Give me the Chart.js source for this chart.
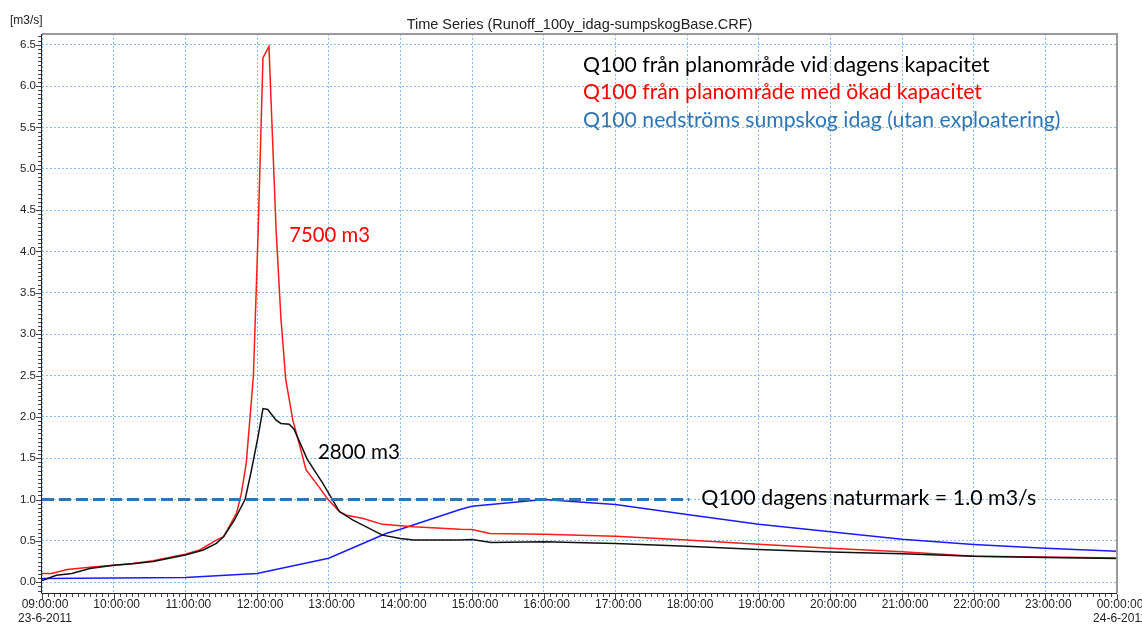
<!DOCTYPE html>
<html lang="sv">
<head>
    <meta charset="UTF-8">
    <title>Time Series (Runoff_100y_idag-sumpskogBase.CRF)</title>
    <script src="https://cdn.jsdelivr.net/npm/chart.js"></script>
    <style>
        html, body { margin: 0; padding: 0; background: #fff; }
    </style>
</head>
<body>
    <canvas id="myChart" width="1142" height="624"></canvas>

    <script>
        // Q100 från planområde vid dagens kapacitet (svart)
        const blackTimes = ['09:00','09:12','09:25','09:40','10:00','10:16','10:33','11:00','11:15','11:26','11:32','11:41','11:50','11:55','12:01','12:05','12:09','12:16','12:20','12:27','12:31','12:42','12:55','13:09','13:20','13:45','14:00','14:11','14:50','15:00','15:16','16:00','17:00','18:00','19:00','20:00','21:00','22:00','23:00','24:00'];
        const blackValues = [0.02,0.085,0.105,0.167,0.207,0.225,0.25,0.33,0.39,0.47,0.55,0.75,1.0,1.33,1.77,2.10,2.09,1.96,1.92,1.91,1.85,1.49,1.20,0.855,0.755,0.57,0.53,0.51,0.51,0.516,0.48,0.49,0.468,0.435,0.395,0.367,0.345,0.315,0.30,0.286];

        // Q100 från planområde med ökad kapacitet (röd)
        const redTimes = ['09:00','09:08','09:21','09:40','10:00','10:16','10:33','11:00','11:12','11:26','11:32','11:43','11:47','11:51','11:55','11:57','12:01','12:05','12:10','12:16','12:20','12:24','12:30','12:36','12:41','12:52','12:59','13:09','13:15','13:29','13:45','14:11','14:50','15:00','15:15','16:00','17:00','18:00','19:00','20:00','21:00','22:00','23:00','24:00'];
        const redValues = [0.105,0.105,0.155,0.18,0.207,0.227,0.26,0.34,0.39,0.51,0.55,0.84,1.08,1.44,2.14,2.5,4.26,6.34,6.48,4.26,3.2,2.46,1.96,1.64,1.36,1.15,1.01,0.855,0.81,0.77,0.70,0.67,0.64,0.637,0.59,0.58,0.556,0.51,0.46,0.41,0.37,0.315,0.306,0.294];

        // Q100 nedströms sumpskog idag (blå)
        const blueTimes = ['09:00','10:00','11:00','12:00','13:00','13:48','14:00','14:50','15:00','16:00','17:00','18:00','19:00','20:00','21:00','22:00','23:00','24:00'];
        const blueValues = [0.045,0.05,0.057,0.105,0.29,0.59,0.64,0.88,0.92,1.0,0.94,0.82,0.70,0.61,0.52,0.456,0.41,0.375];

        // Q100 dagens naturmark (streckad)
        const limitTimes = ['09:00','18:02'];
        const limitValues = [1.0, 1.0];

        const xTicks = [9,10,11,12,13,14,15,16,17,18,19,20,21,22,23,24];
        const xTickLabels = [['09:00:00','23-6-2011'],'10:00:00','11:00:00','12:00:00','13:00:00','14:00:00','15:00:00','16:00:00','17:00:00','18:00:00','19:00:00','20:00:00','21:00:00','22:00:00','23:00:00',['00:00:00','24-6-2011']];
        const yTicks = [0,0.5,1,1.5,2,2.5,3,3.5,4,4.5,5,5.5,6,6.5];
        const yTickLabels = ['0.0','0.5','1.0','1.5','2.0','2.5','3.0','3.5','4.0','4.5','5.0','5.5','6.0','6.5'];

        const notes = [
            { text: 'Q100 från planområde vid dagens kapacitet', at: ['16:33', 6.17], color: '#000000', size: 21.2 },
            { text: 'Q100 från planområde med ökad kapacitet', at: ['16:33', 5.84], color: '#ff0000', size: 21.2 },
            { text: 'Q100 nedströms sumpskog idag (utan exploatering)', at: ['16:33', 5.51], color: '#2e75b6', size: 21.2 },
            { text: '7500 m3', at: ['12:27', 4.12], color: '#ff0000', size: 20.3 },
            { text: '2800 m3', at: ['12:51', 1.49], color: '#000000', size: 20.6 },
            { text: 'Q100 dagens naturmark = 1.0 m3/s', at: ['18:12', 0.93], color: '#000000', size: 21.4 }
        ];

        function toHours(t) {
            const [h, m] = t.split(':').map(Number);
            return h + m / 60;
        }

        function pairs(times, values) {
            return times.map((t, i) => ({ x: toHours(t), y: values[i] }));
        }

        const gridColor = '#86c1ff';

        // title, unit, text notes, axis frame with minor ticks
        const extras = {
            id: 'extras',
            afterDraw(chart) {
                const { ctx, chartArea: a, scales: { x, y } } = chart;
                ctx.save();

                ctx.fillStyle = '#222';
                ctx.font = '14.5px "Liberation Sans", Arial, sans-serif';
                ctx.textAlign = 'center';
                ctx.textBaseline = 'alphabetic';
                ctx.fillText('Time Series (Runoff_100y_idag-sumpskogBase.CRF)', (a.left + a.right) / 2, 29);
                ctx.font = '12px "Liberation Sans", Arial, sans-serif';
                ctx.textAlign = 'left';
                ctx.fillText('[m3/s]', 10, 24);

                notes.forEach(n => {
                    ctx.font = n.size + 'px Lato, "Open Sans", sans-serif';
                    ctx.fillStyle = n.color;
                    ctx.fillText(n.text, x.getPixelForValue(toHours(n.at[0])), y.getPixelForValue(n.at[1]));
                });

                // frame
                ctx.lineWidth = 2;
                ctx.strokeStyle = '#9a9a9a';
                ctx.beginPath();
                ctx.moveTo(a.left, a.top);
                ctx.lineTo(a.right, a.top);
                ctx.lineTo(a.right, a.bottom);
                ctx.stroke();
                ctx.lineWidth = 1;
                ctx.strokeStyle = '#222';
                ctx.beginPath();
                ctx.moveTo(a.left - 0.5, a.top);
                ctx.lineTo(a.left - 0.5, a.bottom + 0.5);
                ctx.lineTo(a.right, a.bottom + 0.5);
                ctx.stroke();

                // minor and major ticks
                ctx.strokeStyle = '#444';
                ctx.beginPath();
                for (let k = 0; k <= 180; k++) {
                    const px = Math.round(x.getPixelForValue(9 + k / 12)) + 0.5;
                    const len = k % 12 === 0 ? 5 : 3;
                    ctx.moveTo(px, a.bottom + 1);
                    ctx.lineTo(px, a.bottom + 1 + len);
                }
                for (let k = -2; k <= 132; k++) {
                    const py = Math.round(y.getPixelForValue(k * 0.05)) + 0.5;
                    if (py < a.top || py > a.bottom) continue;
                    const len = k % 10 === 0 ? 5 : 3;
                    ctx.moveTo(a.left - 1, py);
                    ctx.lineTo(a.left - 1 - len, py);
                }
                ctx.stroke();
                ctx.restore();
            }
        };

        const lineStyle = { borderWidth: 1.5, pointRadius: 0, tension: 0, fill: false };

        const ctx = document.getElementById('myChart').getContext('2d');
        const myChart = new Chart(ctx, {
            type: 'line',
            data: {
                datasets: [
                    { label: 'Q100 dagens naturmark = 1.0 m3/s', data: pairs(limitTimes, limitValues), borderColor: '#2e75b6', borderWidth: 3, borderDash: [12, 5], pointRadius: 0 },
                    { label: 'Q100 från planområde vid dagens kapacitet', data: pairs(blackTimes, blackValues), borderColor: '#111111', ...lineStyle },
                    { label: 'Q100 från planområde med ökad kapacitet', data: pairs(redTimes, redValues), borderColor: '#ff1a1a', ...lineStyle },
                    { label: 'Q100 nedströms sumpskog idag (utan exploatering)', data: pairs(blueTimes, blueValues), borderColor: '#1a1aff', ...lineStyle }
                ]
            },
            options: {
                responsive: false,
                animation: false,
                layout: { padding: { left: 0, right: 25, top: 34, bottom: 0 } },
                plugins: {
                    legend: { display: false },
                    tooltip: { enabled: false }
                },
                scales: {
                    x: {
                        type: 'linear',
                        min: 9,
                        max: 24,
                        afterBuildTicks: s => { s.ticks = xTicks.map(v => ({ value: v })); },
                        afterFit: s => { s.height = 31; s.paddingLeft = 0; s.paddingRight = 0; },
                        ticks: {
                            callback: (v, i) => xTickLabels[i],
                            autoSkip: false,
                            maxRotation: 0,
                            padding: 5,
                            labelOffset: 3,
                            color: '#222',
                            font: { family: '"Liberation Sans", Arial, sans-serif', size: 12, lineHeight: 1.15 }
                        },
                        grid: { color: gridColor, lineWidth: 1, drawTicks: false },
                        border: { display: false, dash: [2, 2] }
                    },
                    y: {
                        min: -0.13,
                        max: 6.63,
                        afterBuildTicks: s => { s.ticks = yTicks.map(v => ({ value: v })); },
                        afterFit: s => { s.width = 42; s.paddingTop = 0; s.paddingBottom = 0; },
                        ticks: {
                            callback: (v, i) => yTickLabels[i],
                            padding: 6,
                            color: '#222',
                            font: { family: '"Liberation Sans", Arial, sans-serif', size: 11.5 }
                        },
                        grid: { color: gridColor, lineWidth: 1, drawTicks: false },
                        border: { display: false, dash: [2, 2] }
                    }
                }
            },
            plugins: [extras]
        });
    </script>
</body>
</html>
